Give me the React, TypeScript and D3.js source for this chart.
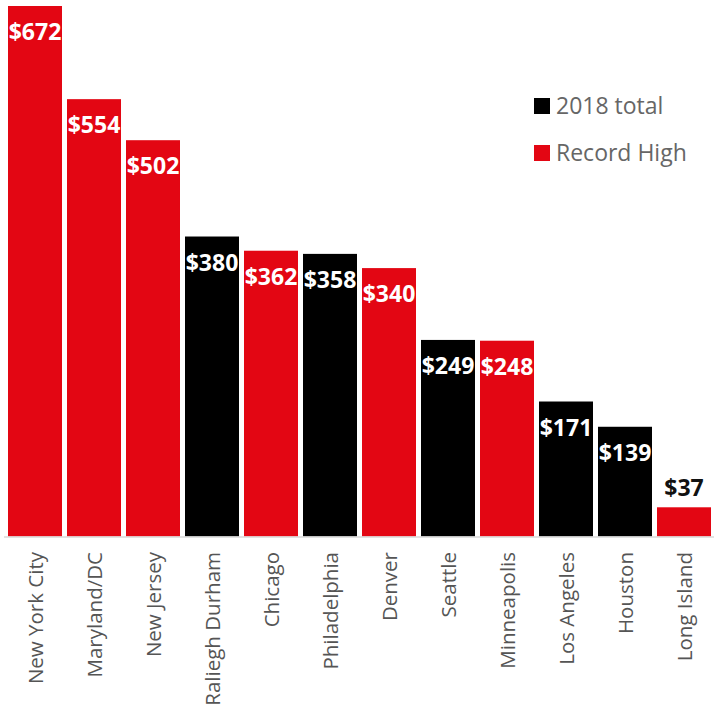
import React from "react";
import * as d3 from "d3";

const categories = ["New York City", "Maryland/DC", "New Jersey", "Raliegh Durham", "Chicago", "Philadelphia", "Denver", "Seattle", "Minneapolis", "Los Angeles", "Houston", "Long Island"];
const values = [672, 554, 502, 380, 362, 358, 340, 249, 248, 171, 139, 37];
const seriesType = ["Record High", "Record High", "Record High", "2018 total", "Record High", "2018 total", "Record High", "2018 total", "Record High", "2018 total", "2018 total", "Record High"];
const legendItems = ["2018 total", "Record High"];
const colors: Record<string, string> = { "2018 total": "#000000", "Record High": "#E30613" };

const W = 720;
const H = 708;
const FONT = "'Open Sans', 'Noto Sans', sans-serif";

export default function App() {
  const baseline = 536.5;
  const x = d3.scaleBand<string>().domain(categories).range([5.5, 713.5]).paddingInner(5 / 59).paddingOuter(2.5 / 59);
  const y = d3.scaleLinear().domain([0, 672]).range([baseline, 6]);

  return (
    <svg width={W} height={H} style={{ position: "absolute", left: 0, top: 0, fontFamily: FONT }}>
      {categories.map((c, i) => {
        const bx = x(c)!;
        const bw = x.bandwidth();
        const top = y(values[i]);
        const inside = baseline - top > 45;
        return (
          <g key={c}>
            <rect x={bx} y={top} width={bw} height={baseline - top} fill={colors[seriesType[i]]} />
            <text
              x={bx + bw / 2}
              y={inside ? top + 34 : top - 11}
              textAnchor="middle"
              fontSize={23}
              fontWeight={700}
              fill={inside ? "#ffffff" : "#111111"}
            >
              ${values[i]}
            </text>
            <text
              transform={`translate(${bx + bw / 2 + 7.5},552) rotate(-90)`}
              textAnchor="end"
              fontSize={20.5}
              fill="#555555"
            >
              {c}
            </text>
          </g>
        );
      })}
      <line x1={4} x2={714} y1={baseline + 0.5} y2={baseline + 0.5} stroke="#d9d9d9" strokeWidth={1.5} />
      {legendItems.map((l, i) => (
        <g key={l} transform={`translate(534,${98 + i * 47})`}>
          <rect x={0} y={0} width={16} height={16} fill={colors[l]} />
          <text x={22} y={16} fontSize={23} fill="#666666">{l}</text>
        </g>
      ))}
    </svg>
  );
}
